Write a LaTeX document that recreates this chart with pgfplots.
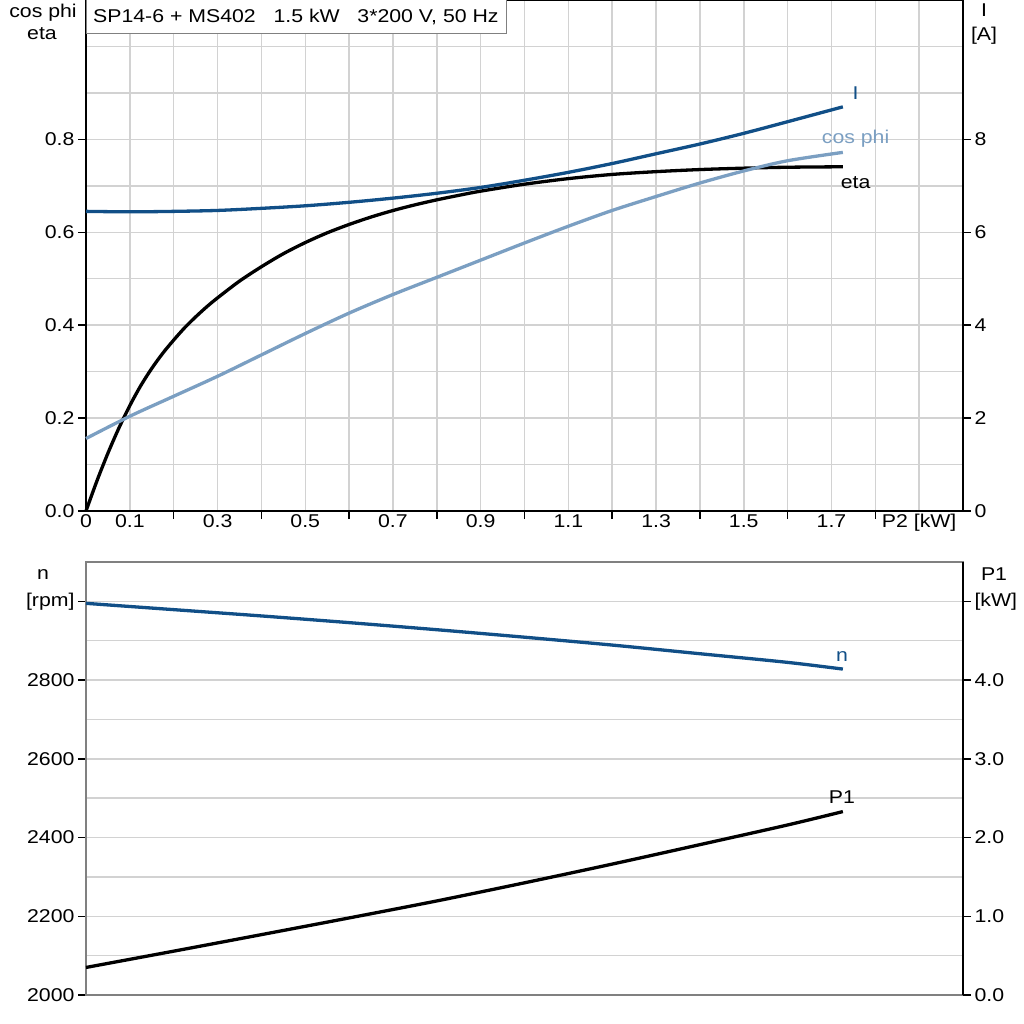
\documentclass[border=0pt]{standalone}
\usepackage{fontspec}
\setmainfont{Liberation Sans}[FakeStretch=1.15]
\usepackage{pgfplots}
\pgfplotsset{compat=1.18}
\definecolor{dblue}{HTML}{114F87}
\definecolor{lblue}{HTML}{7B9FC2}
\definecolor{gridc}{HTML}{D2D2D2}
\definecolor{frameg}{HTML}{808080}
\newcommand{\lf}{\fontsize{18.5}{21}\selectfont}
\pgfplotsset{common/.style={scale only axis, width=877pt, xmin=0, xmax=2,
  tick align=outside, major tick length=8pt, minor tick length=0pt,
  tick style={black, line width=1.5pt},
  minor grid style={gridc, line width=1.5pt},
  major grid style={gridc, line width=1.5pt},
  tick label style={font=\lf},
  axis line style={line width=2pt},
  clip=false}}
\begin{document}
\begin{tikzpicture}
\path[use as bounding box] (0pt,0pt) rectangle (1024pt,-1024pt);
% ---------- top panel, left axis ----------
\begin{axis}[common, at={(86pt,-511pt)}, anchor=south west, height=511pt,
  ymin=0, ymax=1.1,
  xtick={0.2,0.4,0.6,0.8,1.0,1.2,1.4,1.6,1.8}, xticklabels={},
  minor xtick={0,0.1,0.2,0.3,0.4,0.5,0.6,0.7,0.8,0.9,1.0,1.1,1.2,1.3,1.4,1.5,1.6,1.7,1.8,1.9,2.0},
  xminorgrids,
  extra x ticks={0,0.1,0.3,0.5,0.7,0.9,1.1,1.3,1.5,1.7,1.9},
  extra x tick labels={0,0.1,0.3,0.5,0.7,0.9,1.1,1.3,1.5,1.7,P2 [kW]},
  extra x tick style={major tick length=0pt},
  ytick={0,0.2,0.4,0.6,0.8}, yticklabels={0.0,0.2,0.4,0.6,0.8},
  minor ytick={0,0.1,0.2,0.3,0.4,0.5,0.6,0.7,0.8,0.9,1.0,1.1}, yminorgrids,
  xtick pos=bottom, ytick pos=left]
\addplot[black, line width=3.3pt, smooth] coordinates {
(0,0) (0.025,0.065) (0.05,0.1245) (0.075,0.1785) (0.1,0.227) (0.125,0.270)
(0.15,0.307) (0.175,0.3395) (0.2,0.368) (0.225,0.3945) (0.25,0.4178)
(0.275,0.4393) (0.3,0.4588) (0.35,0.4948) (0.4,0.5258) (0.45,0.5538)
(0.5,0.5778) (0.55,0.5988) (0.6,0.6168) (0.65,0.6328) (0.7,0.6468)
(0.75,0.659) (0.8,0.6698) (0.85,0.6795) (0.9,0.6885) (1.0,0.7035) (1.1,0.7155)
(1.2,0.7245) (1.3,0.7305) (1.4,0.735) (1.5,0.738) (1.6,0.740) (1.726,0.741)};
\addplot[lblue, line width=3.3pt, smooth] coordinates {
(0,0.156) (0.1,0.204) (0.2,0.247) (0.3,0.290) (0.4,0.336) (0.5,0.382)
(0.6,0.426) (0.7,0.466) (0.8,0.503) (0.9,0.540) (1.0,0.577) (1.1,0.613)
(1.2,0.647) (1.3,0.677) (1.4,0.706) (1.5,0.732) (1.6,0.754) (1.726,0.772)};
\node[anchor=base, font=\lf, text=lblue] at (axis cs:1.755,0.791) {cos phi};
\node[anchor=base, font=\lf] at (axis cs:1.755,0.695) {eta};
\end{axis}
% ---------- top panel, right axis ----------
\begin{axis}[common, at={(86pt,-511pt)}, anchor=south west, height=511pt,
  ymin=0, ymax=11, axis x line=none, axis y line*=right,
  ytick={0,2,4,6,8}, yticklabels={0,2,4,6,8}]
\addplot[dblue, line width=3.3pt, smooth] coordinates {
(0,6.45) (0.1,6.44) (0.2,6.45) (0.3,6.47) (0.4,6.515) (0.5,6.57) (0.6,6.645)
(0.7,6.735) (0.8,6.84) (0.9,6.965) (1.0,7.12) (1.1,7.29) (1.2,7.48) (1.3,7.69)
(1.4,7.90) (1.5,8.13) (1.6,8.38) (1.726,8.70)};
\node[anchor=base, font=\lf, text=dblue] at (axis cs:1.755,8.86) {I};
\end{axis}
% ---------- bottom panel, left axis ----------
\begin{axis}[common, at={(86pt,-995pt)}, anchor=south west, height=433pt,
  ymin=2000, ymax=3100,
  xtick=\empty,
  minor xtick={0,0.2,0.4,0.6,0.8,1.0,1.2,1.4,1.6,1.8,2.0}, xminorgrids,
  ytick={2000,2200,2400,2600,2800,3000},
  yticklabels={2000,2200,2400,2600,2800,[rpm]},
  minor ytick={2000,2100,2200,2300,2400,2500,2600,2700,2800,2900,3000,3100}, yminorgrids,
  ytick pos=left,
  x axis line style={frameg}]
\addplot[dblue, line width=3.3pt, smooth] coordinates {
(0,2995) (0.2,2979) (0.4,2963) (0.6,2946) (0.8,2928) (1.0,2909) (1.2,2889)
(1.4,2867) (1.6,2845) (1.726,2828)};
\node[anchor=base, font=\lf, text=dblue] at (axis cs:1.724,2846) {n};
\end{axis}
% ---------- bottom panel, right axis ----------
\begin{axis}[common, at={(86pt,-995pt)}, anchor=south west, height=433pt,
  ymin=0, ymax=5.5, axis x line=none, axis y line*=right,
  ytick={0,1,2,3,4,5}, yticklabels={0.0,1.0,2.0,3.0,4.0,[kW]}]
\addplot[black, line width=3.3pt, smooth] coordinates {
(0,0.35) (0.2,0.557) (0.4,0.767) (0.6,0.979) (0.8,1.195) (1.0,1.425) (1.2,1.663)
(1.4,1.910) (1.6,2.16) (1.726,2.33)};
\node[anchor=base, font=\lf] at (axis cs:1.724,2.43) {P1};
\end{axis}
% ---------- axis titles ----------
\node[anchor=base, font=\lf] at (43pt,-18pt) {cos phi};
\node[anchor=base, font=\lf] at (42pt,-40pt) {eta};
\node[anchor=base, font=\lf] at (984pt,-17pt) {I};
\node[anchor=base, font=\lf] at (984pt,-41pt) {[A]};
\node[anchor=base, font=\lf] at (43pt,-579pt) {n};
\node[anchor=base, font=\lf] at (994pt,-580pt) {P1};
% ---------- title box ----------
\draw[fill=white, draw=frameg, line width=1pt] (86pt,0pt) rectangle (506pt,-34pt);
\node[anchor=base west, font=\lf, inner sep=0pt] at (93pt,-23pt) {SP14-6 + MS402\ \ \ 1.5 kW\ \ \ 3*200 V, 50 Hz};
\end{tikzpicture}
\end{document}
